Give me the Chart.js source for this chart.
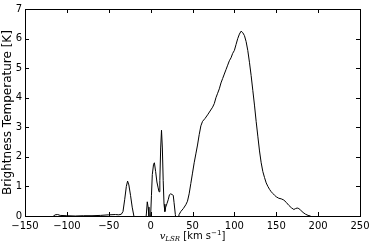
<!DOCTYPE html>
<html>
<head>
<meta charset="utf-8">
<script src="https://cdn.jsdelivr.net/npm/chart.js@4.4.1/dist/chart.umd.min.js"></script>
<style>
  html, body { margin: 0; padding: 0; background: #fff; }
  #wrap { position: relative; width: 374px; height: 246px; }
  #xlabel {
    position: absolute; left: 0; width: 385px; top: 230px;
    text-align: center; font-family: "DejaVu Sans", sans-serif; font-size: 10px; color: #000;
    line-height: 12px;
  }
  #xlabel i { font-family: "DejaVu Serif", serif; }
  #xlabel sub { font-size: 7px; vertical-align: -2px; line-height: 0; }
  #xlabel sup { font-size: 7px; vertical-align: 4px; line-height: 0; }
</style>
</head>
<body>
<div id="wrap">
  <canvas id="grafico" width="374" height="246"></canvas>
  <div id="xlabel"><i>v<sub>LSR</sub></i> [km s<sup>−1</sup>]</div>
</div>
<script>
// velocidades (km/s) e temperatura de brilho (K)
const velocidades = [
  -150, -130, -118, -114, -111, -108, -100, -90, -80, -70, -60, -50, -42, -38, -35,
  -33, -31, -29, -27.5, -26, -24, -22, -20, -18, -10, -6,
  -5, -4, -3, -2, -1, 0, 1, 2, 3.5, 4.5, 6, 7.5, 9, 10, 11, 12, 13, 14, 15, 16, 17,
  18, 19.5, 21, 22.5, 24, 26, 27, 28, 29.5, 31, 33, 34, 36, 39, 42, 44, 46, 48,
  50, 52, 54, 56, 58, 60, 62, 65, 68, 71, 74, 76, 78, 80, 82, 84, 86, 88, 90,
  92, 94, 96, 98, 100, 102, 104, 106, 108, 110, 112, 114, 116, 118, 120, 122,
  124, 126, 128, 130, 132, 134, 136, 138, 140, 142, 144, 146, 148, 150, 153,
  156, 159, 162, 165, 168, 171, 173, 175, 177, 179, 182, 185, 188, 191, 195, 210, 250
];
const temperaturas = [
  -0.2, -0.2, -0.05, 0.04, 0.05, 0.02, 0.01, 0.0, 0.01, 0.01, 0.02, 0.04, 0.05, 0.04, 0.06,
  0.15, 0.55, 1.0, 1.18, 1.05, 0.7, 0.3, 0.0, -0.3, -0.4, -0.2,
  0.1, 0.48, 0.3, 0.0, -0.1, 0.0, 0.7, 1.4, 1.75, 1.8, 1.5, 1.15, 0.95, 0.82, 1.2, 2.3, 2.9, 2.3, 1.2, 0.4, 0.15,
  0.3, 0.42, 0.55, 0.72, 0.75, 0.72, 0.7, 0.45, 0.05, -0.3, -0.1, 0.05, 0.15, 0.25, 0.38, 0.5, 0.75, 1.1,
  1.45, 1.8, 2.1, 2.4, 2.75, 3.05, 3.2, 3.3, 3.42, 3.55, 3.68, 3.8, 4.0, 4.15, 4.3, 4.5, 4.65, 4.8, 4.95,
  5.1, 5.25, 5.35, 5.5, 5.6, 5.8, 6.0, 6.15, 6.25, 6.2, 6.1, 5.9, 5.6, 5.2, 4.75, 4.25,
  3.75, 3.2, 2.7, 2.2, 1.8, 1.5, 1.3, 1.12, 1.0, 0.9, 0.82, 0.76, 0.7, 0.65, 0.6,
  0.58, 0.54, 0.46, 0.36, 0.28, 0.22, 0.25, 0.27, 0.25, 0.2, 0.12, 0.06, 0.02, 0.0, -0.2, -0.3, -0.3
];
const ticksX = [-150, -100, -50, 0, 50, 100, 150, 200, 250];
const ticksY = [0, 1, 2, 3, 4, 5, 6, 7];

const pontos = velocidades.map((v, i) => ({ x: v, y: temperaturas[i] }));

Chart.defaults.font.family = "'DejaVu Sans', sans-serif";
Chart.defaults.font.size = 10;
Chart.defaults.color = "#000";

// moldura e tracinhos para dentro (estilo matplotlib)
const moldura = {
  id: "moldura",
  afterDraw(chart) {
    const { ctx, chartArea: a, scales } = chart;
    ctx.save();
    ctx.strokeStyle = "#000";
    ctx.lineWidth = 1;
    ctx.beginPath();
    ticksX.forEach(t => {
      const x = Math.round(scales.x.getPixelForValue(t)) + 0.5;
      ctx.moveTo(x, a.bottom); ctx.lineTo(x, a.bottom - 4);
      ctx.moveTo(x, a.top); ctx.lineTo(x, a.top + 4);
    });
    ticksY.forEach(t => {
      const y = Math.round(scales.y.getPixelForValue(t)) + 0.5;
      ctx.moveTo(a.left, y); ctx.lineTo(a.left + 4, y);
      ctx.moveTo(a.right, y); ctx.lineTo(a.right - 4, y);
    });
    ctx.stroke();
    ctx.strokeRect(Math.round(a.left) + 0.5, Math.round(a.top) + 0.5,
      Math.round(a.right - a.left), Math.round(a.bottom - a.top));
    ctx.restore();
  }
};

const ctx = document.getElementById("grafico").getContext("2d");
const grafico = new Chart(ctx, {
  type: "line",
  data: {
    datasets: [{
      data: pontos,
      borderColor: "#000",
      borderWidth: 1,
      pointRadius: 0,
      tension: 0,
      fill: false
    }]
  },
  plugins: [moldura],
  options: {
    responsive: false,
    animation: false,
    layout: { padding: { top: 9, right: 14, left: 0, bottom: 0 } },
    plugins: { legend: { display: false }, tooltip: { enabled: false } },
    scales: {
      x: {
        type: "linear",
        min: -150, max: 250,
        afterBuildTicks: s => { s.ticks = ticksX.map(v => ({ value: v })); },
        afterFit: s => { s.height = 30; },
        grid: { display: false, drawTicks: false },
        border: { display: false },
        ticks: { padding: 4, maxRotation: 0, callback: v => String(v).replace("-", "\u2212") }
      },
      y: {
        min: 0, max: 7,
        afterBuildTicks: s => { s.ticks = ticksY.map(v => ({ value: v })); },
        afterFit: s => { s.width = 25; },
        grid: { display: false, drawTicks: false },
        border: { display: false },
        ticks: { padding: 3 },
        title: { display: true, text: "Brightness Temperature [K]", font: { size: 12 }, padding: { top: 1, bottom: 0 } }
      }
    }
  }
});
</script>
</body>
</html>
